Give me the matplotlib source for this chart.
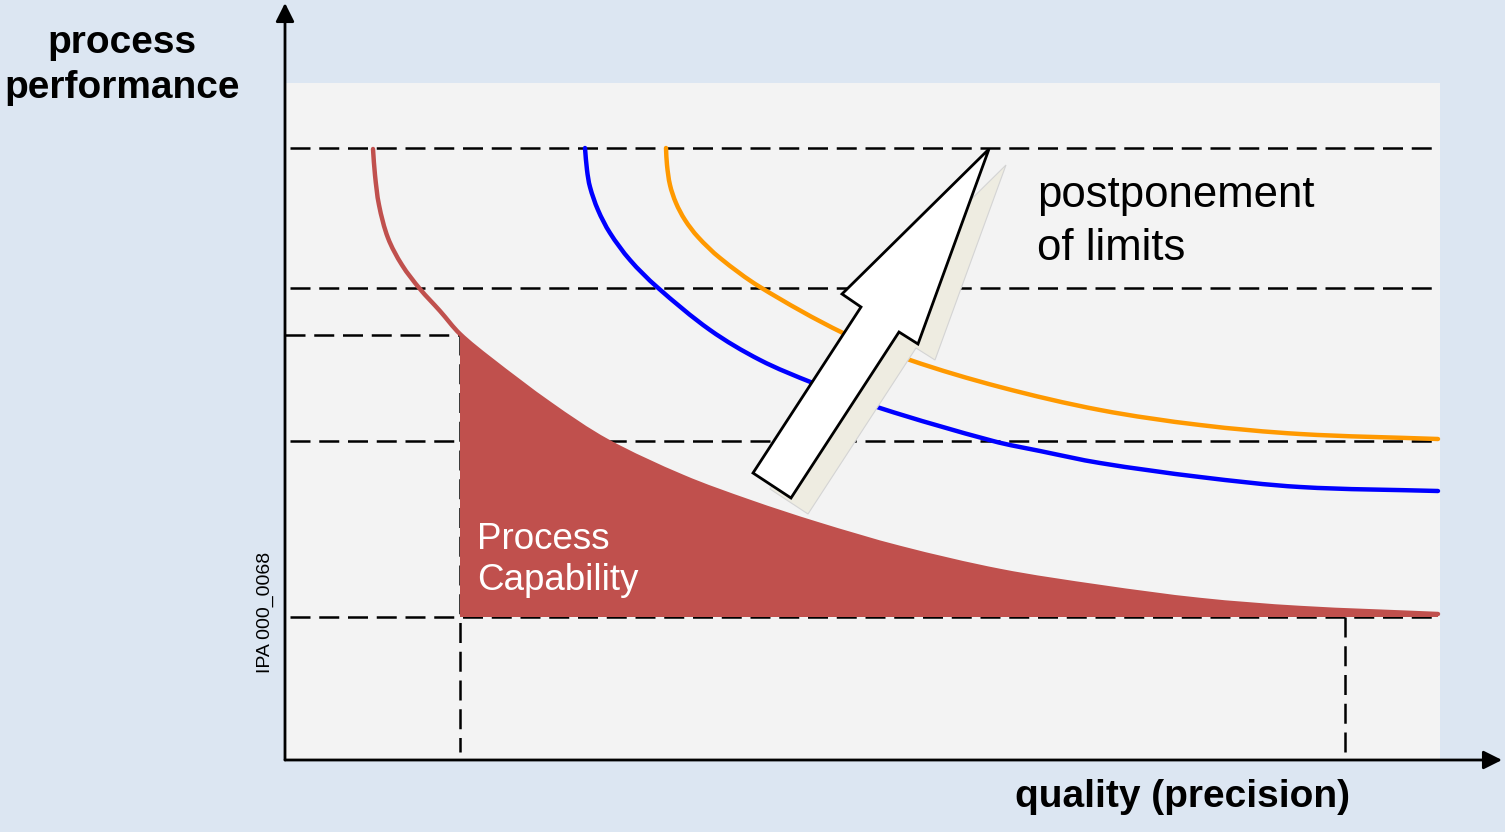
import matplotlib
matplotlib.use('Agg')
import matplotlib.pyplot as plt
from matplotlib.patches import Rectangle, Polygon, PathPatch
from matplotlib.path import Path

# coordinates: origin at the axis crossing, x = quality, y = process performance
# capability curve (red)
red_x = [88, 90, 94, 103, 117, 135, 155, 175, 205, 265, 322, 398, 465, 532, 615, 715, 815, 915, 1015, 1153]
red_y = [611, 585, 555, 522, 495, 471, 449, 426, 401, 356, 319, 283, 258, 236, 212, 189, 173, 160, 152, 146]

# shifted limit curves
blue_x = [300, 302, 305, 313, 325, 345, 372, 425, 475, 528, 595, 708, 755, 815, 915, 1015, 1153]
blue_y = [612, 590, 573, 550, 527, 500, 473, 430, 400, 377, 352, 319, 309, 297, 283, 273, 269]

orange_x = [381, 382, 385, 391, 400, 413, 435, 475, 558, 625, 715, 815, 915, 1015, 1153]
orange_y = [612, 595, 575, 557, 540, 523, 502, 473, 427, 400, 373, 350, 335, 326, 321]

# dashed guide levels
h_levels = [612, 472, 319, 143]
cap_level = 425
q_low = 175
q_high = 1060

# block arrow outline ("postponement of limits")
arrow_x = [704, 557, 576, 468, 506, 614, 633]
arrow_y = [611, 466, 453, 287, 262, 428, 416]


def smooth_path(xs, ys):
    # cubic bezier through the read points, tangents from chord lengths
    pts = list(zip(xs, ys))
    n = len(pts)
    d = [((pts[i + 1][0] - pts[i][0]) ** 2 + (pts[i + 1][1] - pts[i][1]) ** 2) ** 0.5 for i in range(n - 1)]
    tang = []
    for i in range(n):
        if i == 0:
            tang.append(((pts[1][0] - pts[0][0]) / d[0], (pts[1][1] - pts[0][1]) / d[0]))
        elif i == n - 1:
            tang.append(((pts[-1][0] - pts[-2][0]) / d[-1], (pts[-1][1] - pts[-2][1]) / d[-1]))
        else:
            s = d[i - 1] + d[i]
            tang.append(((pts[i + 1][0] - pts[i - 1][0]) / s, (pts[i + 1][1] - pts[i - 1][1]) / s))
    verts = [pts[0]]
    codes = [Path.MOVETO]
    for i in range(n - 1):
        p1, p2 = pts[i], pts[i + 1]
        c1 = (p1[0] + tang[i][0] * d[i] / 3, p1[1] + tang[i][1] * d[i] / 3)
        c2 = (p2[0] - tang[i + 1][0] * d[i] / 3, p2[1] - tang[i + 1][1] * d[i] / 3)
        verts += [c1, c2, p2]
        codes += [Path.CURVE4] * 3
    return verts, codes


W, H = 1505, 832
fig = plt.figure(figsize=(W / 100, H / 100), dpi=100, facecolor='#dce6f2')
ax = fig.add_axes([0, 0, 1, 1])
ax.set_xlim(-285, W - 285)
ax.set_ylim(760 - H, 760)
ax.axis('off')
plt.rcParams['font.family'] = 'Liberation Sans'

# plot panel
ax.add_patch(Rectangle((0, 0), 1155, 677, facecolor='#f3f3f3', edgecolor='none', zorder=0))

dash = dict(color='black', lw=1.8, dashes=(8, 3.5), zorder=1)
for lv in h_levels:
    ax.plot([5, 1155], [lv, lv], **dash)
ax.plot([0, q_low], [cap_level, cap_level], **dash)
ax.plot([q_low, q_low], [cap_level, 8], **dash)
ax.plot([q_high, q_high], [h_levels[-1], 8], **dash)

# process capability area
fx = [x for x in red_x if x >= q_low]
fy = [y for x, y in zip(red_x, red_y) if x >= q_low]
v, c = smooth_path(fx, fy)
v += [(fx[-1], h_levels[-1]), (fx[0], h_levels[-1]), (fx[0], fy[0])]
c += [Path.LINETO, Path.LINETO, Path.CLOSEPOLY]
ax.add_patch(PathPatch(Path(v, c), facecolor='#c0504d', edgecolor='none', zorder=2))

for xs, ys, col in [(red_x, red_y, '#c0504d'), (blue_x, blue_y, '#0000ff'), (orange_x, orange_y, '#ff9900')]:
    v, c = smooth_path(xs, ys)
    ax.add_patch(PathPatch(Path(v, c), facecolor='none', edgecolor=col, lw=3.2,
                           capstyle='round', zorder=3))

# arrow with shadow
shadow = [(x + 17, y - 16) for x, y in zip(arrow_x, arrow_y)]
ax.add_patch(Polygon(shadow, closed=True, facecolor='#eeece1', edgecolor='#d4d4d4', lw=0.8, zorder=4))
ax.add_patch(Polygon(list(zip(arrow_x, arrow_y)), closed=True, facecolor='white',
                     edgecolor='black', lw=2, joinstyle='miter', zorder=5))

# axes
ax.annotate('', xy=(0, 757), xytext=(0, 0),
            arrowprops=dict(arrowstyle='-|>', color='black', lw=2, mutation_scale=28, shrinkA=0, shrinkB=0), zorder=6)
ax.annotate('', xy=(1217, 0), xytext=(0, 0),
            arrowprops=dict(arrowstyle='-|>', color='black', lw=2, mutation_scale=28, shrinkA=0, shrinkB=0), zorder=6)

# texts
ax.text(-163, 707, 'process', fontsize=28, fontweight='bold', ha='center', va='baseline')
ax.text(-163, 662, 'performance', fontsize=28, fontweight='bold', ha='center', va='baseline')
ax.text(730, -47, 'quality (precision)', fontsize=28, fontweight='bold', ha='left', va='baseline')
ax.text(752, 553, 'postponement', fontsize=31.5, ha='left', va='baseline')
ax.text(752, 500, 'of limits', fontsize=31.5, ha='left', va='baseline')
ax.text(192, 211, 'Process', fontsize=26.5, color='white', ha='left', va='baseline')
ax.text(192, 170, 'Capability', fontsize=26.5, color='white', ha='left', va='baseline')
ax.text(-20, 148, 'IPA 000_0068', fontsize=14, rotation=90, ha='center', va='center')

fig.savefig('out.png', dpi=100, facecolor=fig.get_facecolor())
